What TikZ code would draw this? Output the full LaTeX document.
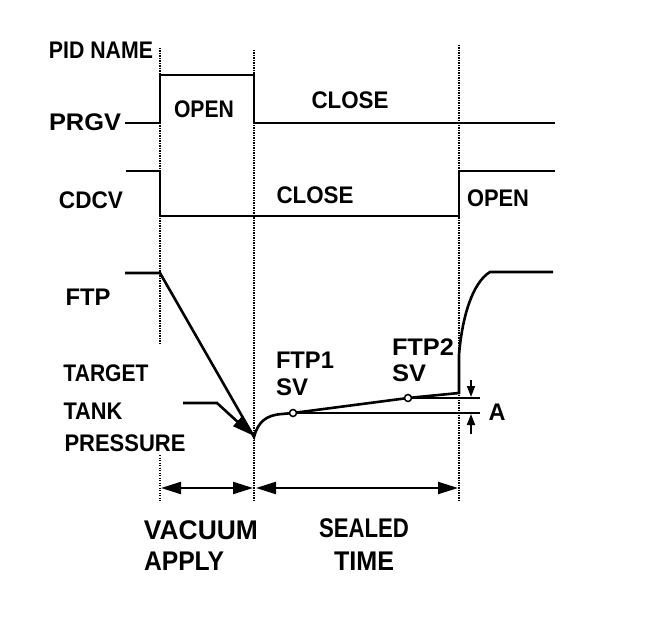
\documentclass[tikz,border=0pt]{standalone}
\usepackage{fontspec}
\setmainfont{Liberation Sans}
\usetikzlibrary{arrows.meta}
\newcommand\fitw[2]{\resizebox{#1}{\height}{#2}}
\begin{document}
\begin{tikzpicture}[x=1pt,y=-1pt,
  sig/.style={line width=2.6pt, line join=miter},
  guide/.style={line width=1.1pt, dash pattern=on 1.2pt off 1.3pt},
  lbl/.style={inner sep=0pt, font=\fontsize{24}{25}\selectfont\bfseries},
  big/.style={inner sep=0pt, font=\fontsize{27}{28}\selectfont\bfseries},
  dimarrow/.style={line width=2.2pt, {Triangle[length=20pt,width=12pt]}-{Triangle[length=20pt,width=12pt]}},
  smallarrow/.style={line width=1.8pt, -{Triangle[length=11pt,width=8pt]}},
  svmark/.style={circle, draw, line width=1.5pt, fill=white, minimum width=7pt, minimum height=7pt, inner sep=0pt},
]
\useasboundingbox (0,0) rectangle (672,628);
% guides
\draw[guide] (160,48) -- (160,345);
\draw[guide] (160,455) -- (160,502);
\draw[guide] (254,50) -- (254,502);
\draw[guide] (459,45) -- (459,502);
% labels
\node[lbl] (pid) at (101,50) {\fitw{104pt}{PID NAME}};
\node[lbl] (prgv) at (85,122) {\fitw{72pt}{PRGV}};
\node[lbl] (open1) at (204,109) {\fitw{60pt}{OPEN}};
\node[lbl] (close1) at (350,100) {\fitw{77pt}{CLOSE}};
\node[lbl] (cdcv) at (91,200) {\fitw{64pt}{CDCV}};
\node[lbl] (close2) at (315,195) {\fitw{77pt}{CLOSE}};
\node[lbl] (open2) at (498,198) {\fitw{62pt}{OPEN}};
\node[lbl] (ftp) at (88,297) {\fitw{45pt}{FTP}};
\node[lbl] (target) at (106,373) {\fitw{85pt}{TARGET}};
\node[lbl] (tank) at (93,411) {\fitw{59pt}{TANK}};
\node[lbl] (press) at (125,443) {\fitw{121pt}{PRESSURE}};
\node[lbl] (ftp1) at (305,360) {\fitw{58pt}{FTP1}};
\node[lbl] (sv1) at (292,387) {\fitw{32pt}{SV}};
\node[lbl] (ftp2) at (423,347) {\fitw{62pt}{FTP2}};
\node[lbl] (sv2) at (409,373) {\fitw{34pt}{SV}};
\node[lbl] (alab) at (497,412) {\fitw{17pt}{A}};
\node[big] (vac) at (201,530) {\fitw{114pt}{VACUUM}};
\node[big] (apply) at (184,561) {\fitw{80pt}{APPLY}};
\node[big] (sealed) at (364,528) {\fitw{90pt}{SEALED}};
\node[big] (time) at (364,561) {\fitw{60pt}{TIME}};
% PRGV and CDCV signals
\draw[sig] (125,123) -- (160,123) -- (160,75) -- (254,75) -- (254,123) -- (555,123);
\draw[sig] (126,171) -- (160,171) -- (160,216) -- (459,216) -- (459,171) -- (555,171);
% FTP trace
\coordinate (p1) at (293,413);
\coordinate (p2) at (408,398);
\draw[sig] (125,273) -- (160,273) -- (254,437) .. controls (258,422) and (266,415) .. (282,414) -- (p1);
\draw[sig] (p1) -- (480,413);
\draw[sig] (p1) -- (p2) -- (459,393) -- (459,355) .. controls (462,318) and (472,283) .. (490,272) -- (553,272);
\draw[line width=2.2pt] (p2) -- (480,398);
\node[svmark] (sv1m) at (p1) {};
\node[svmark] (sv2m) at (p2) {};
% target arrow
\coordinate (t0) at (183,403);
\coordinate (t1) at (217,403);
\coordinate (t2) at (252,435);
\draw[line width=2.6pt, -{Triangle[length=20pt,width=12pt]}] (t0) -- (t1) -- (t2);
% A arrows
\coordinate (a0) at (471,380);
\coordinate (a1) at (471,397);
\coordinate (a2) at (471,434);
\coordinate (a3) at (471,414);
\draw[smallarrow] (a0) -- (a1);
\draw[smallarrow] (a2) -- (a3);
% time spans
\coordinate (b0) at (161,488);
\coordinate (b1) at (253,488);
\coordinate (b2) at (256,488);
\coordinate (b3) at (458,488);
\draw[dimarrow] (b0) -- (b1);
\draw[dimarrow] (b2) -- (b3);
\end{tikzpicture}
\end{document}
